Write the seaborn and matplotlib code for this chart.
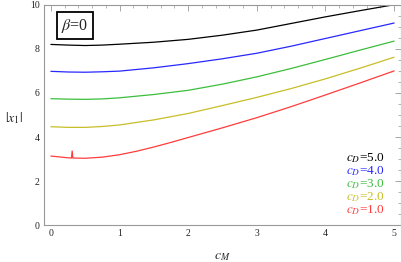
import numpy as np
import pandas as pd
import seaborn as sns
import matplotlib.pyplot as plt
from matplotlib.ticker import MultipleLocator

# values
cm_grid = [0, 0.25, 0.5, 0.75, 1, 1.5, 2, 2.5, 3, 3.5, 4, 4.5, 5]
x1_cd5 = [8.20, 8.17, 8.15, 8.17, 8.21, 8.30, 8.43, 8.62, 8.85, 9.15, 9.45, 9.73, 10.0]
x1_cd4 = [6.98, 6.95, 6.94, 6.96, 6.99, 7.14, 7.33, 7.55, 7.80, 8.12, 8.47, 8.82, 9.17]
x1_cd3 = [5.74, 5.72, 5.71, 5.73, 5.78, 5.93, 6.12, 6.40, 6.73, 7.11, 7.52, 7.94, 8.35]
x1_cd2 = [4.47, 4.44, 4.44, 4.48, 4.55, 4.78, 5.07, 5.43, 5.80, 6.20, 6.64, 7.12, 7.62]
# red curve has a small spike near cM = 0.31
cm_red = [0, 0.25, 0.30, 0.31, 0.32, 0.5, 0.75, 1, 1.25, 1.5, 1.75, 2, 2.5, 3, 3.5, 4, 4.5, 5]
x1_cd1 = [3.14, 3.06, 3.05, 3.37, 3.05, 3.04, 3.09, 3.20, 3.36, 3.55, 3.76, 3.98, 4.42,
          4.88, 5.38, 5.91, 6.45, 7.0]

cd_labels = ['5.0', '4.0', '3.0', '2.0', '1.0']
cd_colors = ['#000000', '#2828ff', '#3cbe3c', '#c8be28', '#ff3c3c']

rows = []
for lab, ys in zip(cd_labels[:4], [x1_cd5, x1_cd4, x1_cd3, x1_cd2]):
    for c, v in zip(cm_grid, ys):
        rows.append((c, v, lab))
for c, v in zip(cm_red, x1_cd1):
    rows.append((c, v, '1.0'))
df = pd.DataFrame(rows, columns=['cM', 'x1', 'cD'])

sns.set_style('white')
plt.rcParams['font.family'] = ['Liberation Serif', 'DejaVu Serif']
plt.rcParams['mathtext.fontset'] = 'stix'

fig = plt.figure(figsize=(4.02, 2.62), dpi=100)
ax = fig.add_axes([0.1095, 0.140, 0.888, 0.842])

sns.lineplot(data=df, x='cM', y='x1', hue='cD', hue_order=cd_labels,
             palette=dict(zip(cd_labels, cd_colors)), estimator=None,
             sort=False, linewidth=0.9, legend=False, ax=ax)

ax.set_xlim(-0.1, 5.1)
ax.set_ylim(0, 10)
ax.xaxis.set_major_locator(MultipleLocator(1))
ax.xaxis.set_minor_locator(MultipleLocator(0.2))
ax.yaxis.set_major_locator(MultipleLocator(2))
ax.yaxis.set_minor_locator(MultipleLocator(0.5))
ax.tick_params(which='both', direction='in', top=True, right=True,
               colors='#999999', labelcolor='#222222', labelsize=7, pad=3)
ax.tick_params(which='major', length=4, width=0.6)
ax.tick_params(which='minor', length=2, width=0.5)
for s in ax.spines.values():
    s.set_color('#999999')
    s.set_linewidth(0.8)

ax.set_xlabel(r'$c_M$', fontsize=10, labelpad=8)
ax.set_ylabel(r'$|x_1|$', fontsize=10, rotation=0, labelpad=10)
ax.yaxis.set_label_coords(-0.085, 0.45)

ax.text(0.35, 9.05, r'$\beta$=0', fontsize=11.5, ha='center', va='center',
        bbox=dict(boxstyle='square,pad=0.3', fc='white', ec='black', lw=1.3))

for i, (lab, col) in enumerate(zip(cd_labels, cd_colors)):
    ax.text(4.87, 3.06 - i * 0.595, r'$c_D$=' + lab, color=col, fontsize=9.5,
            ha='right', va='center')

fig.savefig('out.png', dpi=100)
